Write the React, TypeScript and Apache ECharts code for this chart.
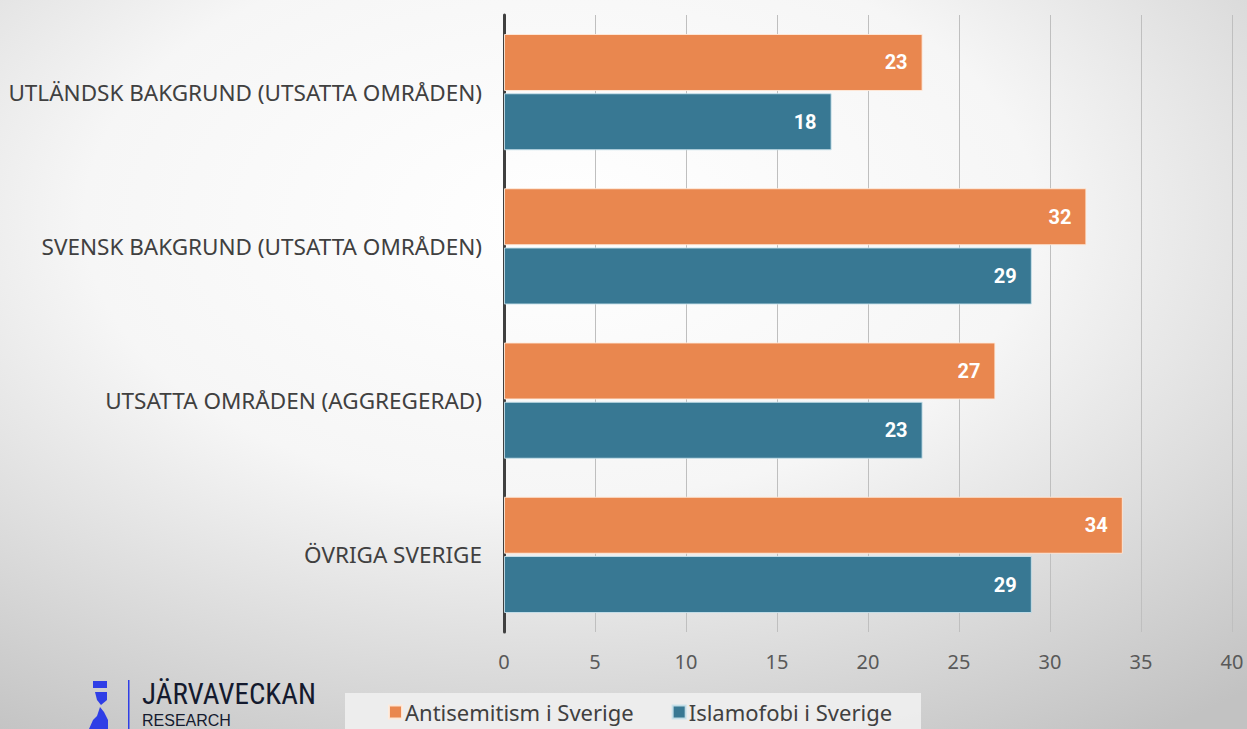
import React, { useEffect, useRef } from "react";
import * as echarts from "echarts";

const categories = [
  "UTLÄNDSK BAKGRUND (UTSATTA OMRÅDEN)",
  "SVENSK BAKGRUND (UTSATTA OMRÅDEN)",
  "UTSATTA OMRÅDEN (AGGREGERAD)",
  "ÖVRIGA SVERIGE",
];
const antisemitism = [23, 32, 27, 34];
const islamofobi = [18, 29, 23, 29];
const seriesNames = ["Antisemitism i Sverige", "Islamofobi i Sverige"];

const FONT = "'Noto Sans', 'Open Sans', sans-serif";

export default function App() {
  const ref = useRef<HTMLDivElement>(null);
  useEffect(() => {
    if (!ref.current) return;
    const chart = echarts.init(ref.current, null, { renderer: "svg" });
    const label = {
      show: true,
      position: "insideRight",
      distance: 15,
      color: "#ffffff",
      fontWeight: "bold",
      fontSize: 20,
      fontFamily: "Roboto, sans-serif",
    };
    chart.setOption({
      animation: false,
      backgroundColor: {
        type: "radial",
        x: 0.45,
        y: 0.3,
        r: 0.85,
        colorStops: [
          { offset: 0, color: "#ffffff" },
          { offset: 0.45, color: "#f6f6f6" },
          { offset: 1, color: "#c2c2c2" },
        ],
      },
      graphic: [
        {
          type: "rect",
          shape: { x: 345, y: 693, width: 576, height: 40 },
          style: { fill: "rgba(240,240,240,0.9)" },
          z: 0,
        },
        // logo glyph
        { type: "rect", shape: { x: 93, y: 681, width: 14, height: 7 }, style: { fill: "#2f3ee6" } },
        {
          type: "polygon",
          shape: { points: [[95, 692], [107, 692], [107, 700], [101, 705], [97, 700]] },
          style: { fill: "#2f3ee6" },
        },
        {
          type: "polygon",
          shape: { points: [[100, 707], [104, 712], [108, 720], [108, 729], [89, 729], [93, 720], [97, 716]] },
          style: { fill: "#2f3ee6" },
        },
        { type: "rect", shape: { x: 128, y: 680, width: 1.5, height: 49 }, style: { fill: "#2f3ee6" } },
        {
          type: "text",
          x: 142,
          y: 679,
          style: { text: "JÄRVAVECKAN", fontSize: 29, fontFamily: "'Liberation Sans Narrow', 'Roboto Condensed', sans-serif", fill: "#141a2e" },
        },
        {
          type: "text",
          x: 142,
          y: 712,
          style: { text: "RESEARCH", fontSize: 16, fontFamily: "'Liberation Sans Narrow', sans-serif", fill: "#141a2e" },
        },
      ],
      legend: {
        bottom: 1,
        left: 383,
        itemWidth: 13,
        itemHeight: 13,
        itemGap: 38,
        icon: "rect",
        data: seriesNames,
        textStyle: { fontSize: 22, color: "#404040", fontFamily: FONT, padding: [0, 0, 0, -2] },
      },
      grid: { left: 504, right: 15, top: 15, bottom: 97 },
      xAxis: {
        type: "value",
        min: 0,
        max: 40,
        interval: 5,
        axisLine: { show: false },
        axisTick: { show: false },
        splitLine: { show: true, lineStyle: { color: "#bfbfbf", width: 1 } },
        axisLabel: { fontSize: 20, color: "#595959", fontFamily: FONT, margin: 19 },
      },
      yAxis: {
        type: "category",
        inverse: true,
        data: categories,
        axisLine: { show: true, lineStyle: { color: "#404040", width: 3 } },
        axisTick: { show: false },
        axisLabel: { fontSize: 22.5, color: "#404040", fontFamily: FONT, margin: 22 },
      },
      series: [
        {
          name: seriesNames[0],
          type: "bar",
          data: antisemitism,
          barWidth: 57,
          barGap: "4%",
          itemStyle: { color: "#e9874f", borderColor: "rgba(255,235,220,0.9)", borderWidth: 1 },
          label,
        },
        {
          name: seriesNames[1],
          type: "bar",
          data: islamofobi,
          barWidth: 57,
          barGap: "4%",
          itemStyle: { color: "#387893", borderColor: "rgba(200,225,235,0.9)", borderWidth: 1 },
          label,
        },
      ],
    });
    return () => chart.dispose();
  }, []);
  return <div ref={ref} style={{ width: 1247, height: 729, position: "absolute", left: 0, top: 0 }} />;
}
